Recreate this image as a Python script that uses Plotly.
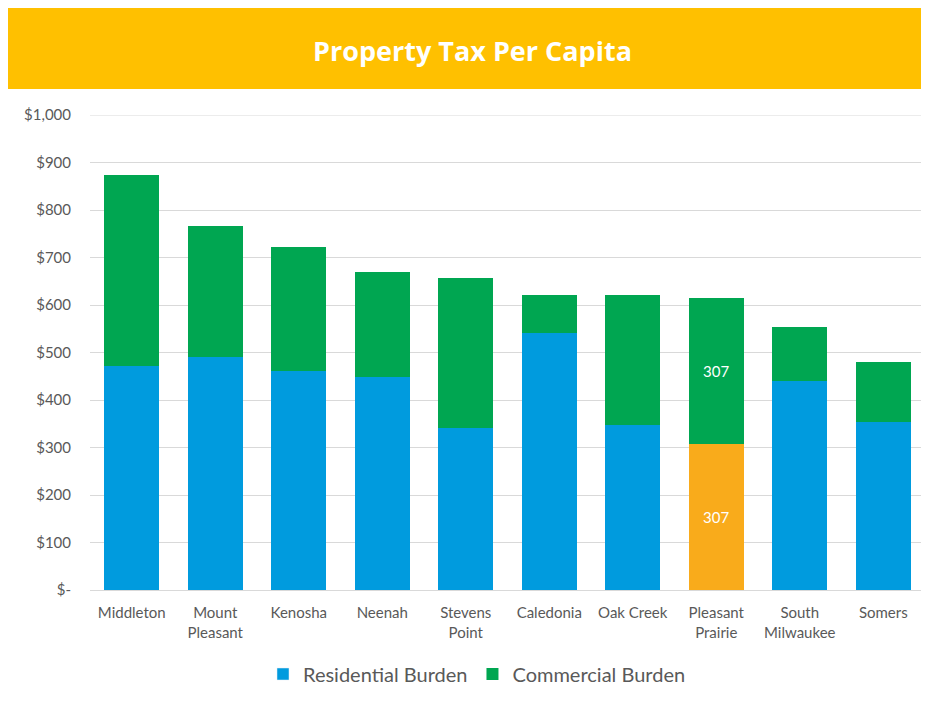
import plotly.graph_objects as go

cities = ["Middleton", "Mount<br>Pleasant", "Kenosha", "Neenah", "Stevens<br>Point",
          "Caledonia", "Oak Creek", "Pleasant<br>Prairie", "South<br>Milwaukee", "Somers"]
residential = [472, 490, 461, 448, 341, 541, 347, 307, 440, 354]
commercial = [402, 276, 261, 221, 316, 80, 274, 307, 114, 126]
highlight = "Pleasant<br>Prairie"

tick_vals = [0, 100, 200, 300, 400, 500, 600, 700, 800, 900, 1000]
tick_text = ["$-", "$100", "$200", "$300", "$400", "$500", "$600", "$700", "$800", "$900", "$1,000"]

BLUE = "#009BDE"
GREEN = "#00A651"
ORANGE = "#F9AB1B"
GREY = "#595959"

res_colors = [ORANGE if c == highlight else BLUE for c in cities]
res_text = [str(v) if c == highlight else "" for c, v in zip(cities, residential)]
com_text = [str(v) if c == highlight else "" for c, v in zip(cities, commercial)]

fig = go.Figure()
# legend-only entry so the swatch stays blue
fig.add_trace(go.Bar(x=[None], y=[None], name="Residential Burden", marker_color=BLUE))
fig.add_trace(go.Bar(
    x=cities, y=residential, name="Residential Burden", showlegend=False,
    marker=dict(color=res_colors, line=dict(width=0)),
    text=res_text, textposition="inside", insidetextanchor="middle",
    textfont=dict(color="white", size=15, family="Lato"),
))
fig.add_trace(go.Bar(
    x=cities, y=commercial, name="Commercial Burden",
    marker=dict(color=GREEN, line=dict(width=0)),
    text=com_text, textposition="inside", insidetextanchor="middle",
    textfont=dict(color="white", size=15, family="Lato"),
))

# page layout in pixels -> paper coords (page body has an 8px margin)
W, H = 917, 687
L, R, T, B = 82, 0, 107, 105
pw, ph = W - L - R, H - T - B

def px(x):
    return (x - L) / pw

def py(y):
    return (H - B - y) / ph

fig.update_layout(
    width=W, height=H,
    margin=dict(l=L, r=R, t=T, b=B),
    barmode="stack", bargap=0.34,
    paper_bgcolor="white", plot_bgcolor="white",
    font=dict(family="Lato", color=GREY, size=15),
    shapes=[
        dict(type="rect", xref="paper", yref="paper", x0=px(-2), x1=px(W + 2), y0=py(81), y1=py(-2),
             fillcolor="#FFC000", line_width=0, layer="below"),
        # top gridline sits on the plot edge, plotly skips it
        dict(type="line", xref="paper", yref="y", x0=0, x1=1, y0=tick_vals[-1], y1=tick_vals[-1],
             line=dict(color="#D9D9D9", width=1), layer="below"),
    ],
    annotations=[dict(text="<b>Property Tax Per Capita</b>", xref="paper", yref="paper",
                      x=px(464), y=py(42), showarrow=False, xanchor="center", yanchor="middle",
                      font=dict(family="Open Sans", size=27, color="white"))],
    legend=dict(orientation="h", x=px(469), xanchor="center", y=py(666), yanchor="middle",
                font=dict(size=20, color=GREY), bgcolor="rgba(0,0,0,0)", traceorder="normal"),
    xaxis=dict(type="category", categoryorder="array", categoryarray=cities,
               showline=True, linecolor="#D9D9D9", linewidth=1, ticklabelstandoff=9,
               tickfont=dict(size=15, color=GREY), ticks=""),
    yaxis=dict(range=[0, 1000], tickvals=tick_vals, ticktext=tick_text, showgrid=True,
               gridcolor="#D9D9D9", gridwidth=1, zeroline=False, ticks="", ticklabelstandoff=18,
               tickfont=dict(size=15, color=GREY)),
)
fig.write_html("out.html")
